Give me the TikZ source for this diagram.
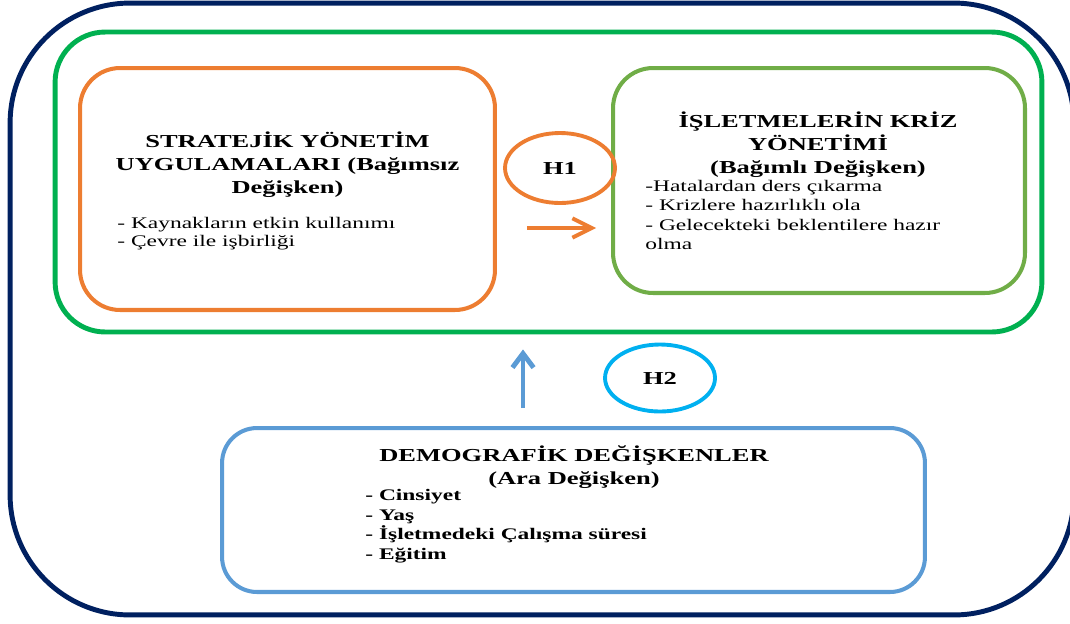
\documentclass[tikz,border=0pt]{standalone}
\usepackage{fontspec}
\setmainfont{Liberation Serif}[FakeStretch=1.45]
\usepackage{tikz}
\usetikzlibrary{shapes.geometric, arrows.meta}
\definecolor{navy}{RGB}{0,32,96}
\definecolor{frgreen}{RGB}{0,176,80}
\definecolor{orng}{RGB}{237,125,49}
\definecolor{lgreen}{RGB}{112,173,71}
\definecolor{lblue}{RGB}{91,155,213}
\definecolor{hcyan}{RGB}{0,176,240}

\begin{document}
\begin{tikzpicture}[
  x=0.02cm, y=-0.02cm,
  box/.style={draw, rounded corners=0.8cm, line width=2.3pt},
  hyp/.style={draw, ellipse, line width=2.2pt, minimum width=2.2cm, minimum height=1.4cm, inner sep=0pt, font=\bfseries\fontsize{10.4}{13}\selectfont},
  ttl/.style={align=center, inner sep=0pt, font=\bfseries\fontsize{10.4}{13}\selectfont},
  lst/.style={align=left, inner sep=0pt, anchor=north west, font=\fontsize{9.2}{11}\selectfont},
  harr/.style={line width=2.2pt, -{Straight Barb[length=11pt,width=11pt]}}
]
\useasboundingbox (0,0) rectangle (1070,623);

% frames
\node[box, draw=navy, line width=2.8pt, rounded corners=2.4cm, minimum width=21.28cm, minimum height=12.24cm] (out) at (542,309) {};
\node[box, draw=frgreen, line width=2.8pt, rounded corners=1cm, minimum width=19.74cm, minimum height=6cm] (fr) at (548.5,182) {};

% variables
\node[box, draw=orng, minimum width=8.3cm, minimum height=4.84cm] (sy) at (287.5,189) {};
\node[box, draw=lgreen, minimum width=8.24cm, minimum height=4.5cm] (kz) at (819,180.5) {};
\node[box, draw=lblue, rounded corners=0.7cm, minimum width=14.06cm, minimum height=3.28cm] (dm) at (573.5,510) {};

\node[ttl] (syt) at (287.5,165) {STRATEJİK YÖNETİM\\UYGULAMALARI (Bağımsız\\Değişken)};
\node[lst, font=\fontsize{9.2}{10.2}\selectfont] (syl) at (117,217) {- Kaynakların etkin kullanımı\\- Çevre ile  işbirliği};

\node[ttl] (kzt) at (818,145) {İŞLETMELERİN KRİZ\\YÖNETİMİ\\(Bağımlı Değişken)};
\node[lst] (kzl) at (645,180) {-Hatalardan ders çıkarma\\- Krizlere  hazırlıklı ola\\- Gelecekteki beklentilere hazır\\olma};

\node[ttl] (dmt) at (574,467) {DEMOGRAFİK DEĞİŞKENLER\\(Ara Değişken)};
\node[lst, font=\bfseries\fontsize{9.2}{11.2}\selectfont] (dml) at (365,489) {- Cinsiyet\\- Yaş\\- İşletmedeki Çalışma süresi\\- Eğitim};

% hypotheses
\node[hyp, draw=orng] (h1) at (560,168) {H1};
\node[hyp, draw=hcyan, minimum height=1.34cm] (h2) at (660,378) {H2};

\coordinate (h1y) at (0,228);
\coordinate (h2x) at (523,0);
\draw[harr, orng, shorten <=0.6cm, shorten >=0.3cm] (sy.east |- h1y) -- (kz.west |- h1y);
\draw[lblue, line width=2.8pt, -{Straight Barb[length=8pt,width=12pt]}, shorten <=0.36cm, shorten >=0.3cm] (dm.north -| h2x) -- (fr.south -| h2x);
\end{tikzpicture}
\end{document}
